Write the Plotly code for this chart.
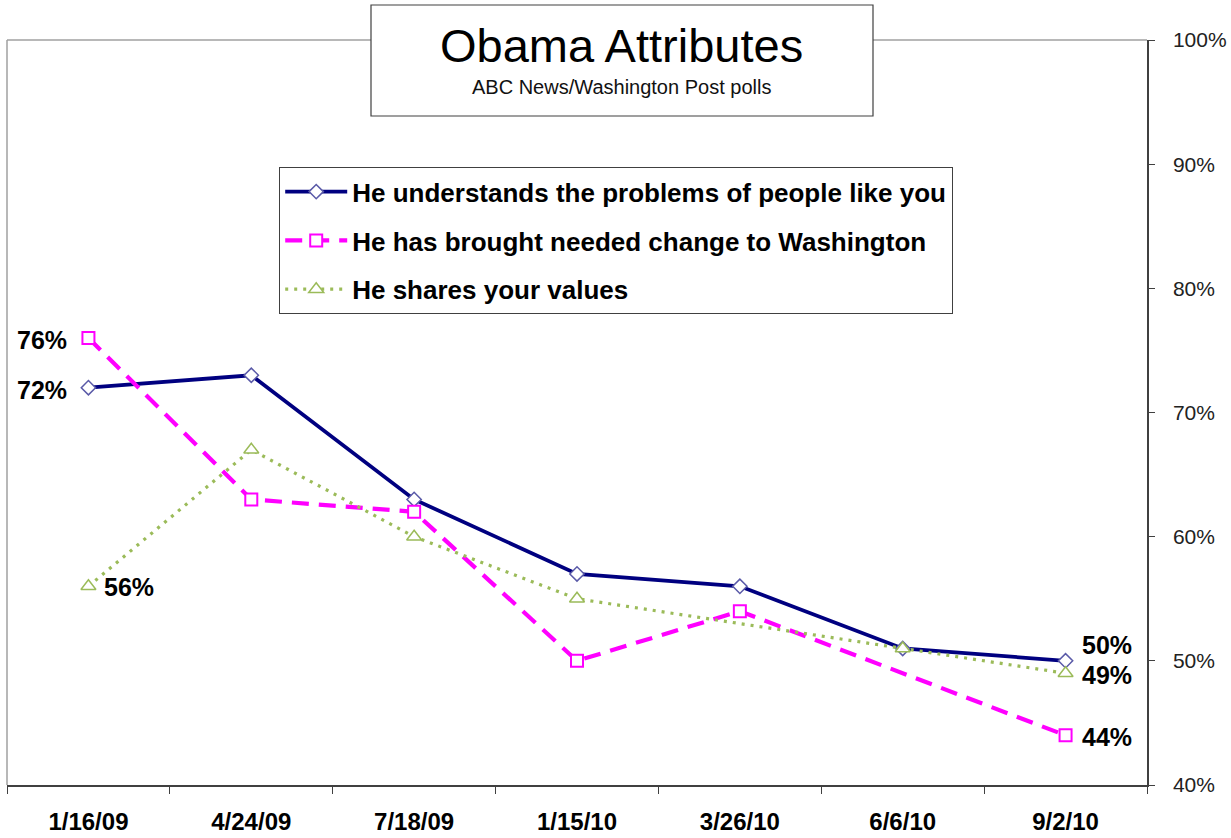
import plotly.graph_objects as go

# ---- data ----
dates = ["1/16/09", "4/24/09", "7/18/09", "1/15/10", "3/26/10", "6/6/10", "9/2/10"]
understands = [72, 73, 63, 57, 56, 51, 50]
brought_change = [76, 63, 62, 50, 54, None, 44]
shares_values = [56, 67, 60, 55, None, 51, 49]
y_ticks = [40, 50, 60, 70, 80, 90, 100]
y_tick_labels = ["40%", "50%", "60%", "70%", "80%", "90%", "100%"]
names = ["He understands the problems of people like you",
         "He has brought needed change to Washington",
         "He shares your values"]

W, H = 1231, 838
ML, MR, MT, MB = 7, 84, 40, 53
PW, PH = W - ML - MR, H - MT - MB
FONT = "Liberation Sans, Arial, sans-serif"


def px_x(p):
    return (p - ML) / PW


def px_y(p):
    return (H - MB - p) / PH


fig = go.Figure()

fig.add_trace(go.Scatter(
    x=dates, y=understands, name=names[0], mode="lines+markers",
    line=dict(color="#000080", width=3.8),
    marker=dict(symbol="diamond", size=11, color="white",
                line=dict(color="#5a5aa8", width=1.5)),
    legendgroup="a", connectgaps=True))
fig.add_trace(go.Scatter(
    x=dates, y=brought_change, name=names[1], mode="lines+markers",
    line=dict(color="#FF00FF", width=4.2, dash="17px,10px"),
    marker=dict(symbol="square", size=12, color="white",
                line=dict(color="#FF00FF", width=2)),
    legendgroup="b", connectgaps=True))
fig.add_trace(go.Scatter(
    x=dates, y=shares_values, name=names[2], mode="lines+markers",
    line=dict(color="#9BBB59", width=3.2, dash="3px,6px"),
    marker=dict(symbol="triangle-up", size=13, color="white",
                line=dict(color="#9BBB59", width=1.5)),
    legendgroup="c", connectgaps=True))

# data labels
lab = dict(showarrow=False, font=dict(family=FONT, size=25, color="black", weight="bold"))
fig.add_annotation(x=dates[0], y=brought_change[0], text=f"{brought_change[0]}%",
                   xanchor="right", xshift=-19, yshift=-2, **lab)
fig.add_annotation(x=dates[0], y=understands[0], text=f"{understands[0]}%",
                   xanchor="right", xshift=-19, yshift=-2, **lab)
fig.add_annotation(x=dates[0], y=shares_values[0], text=f"{shares_values[0]}%",
                   xanchor="left", xshift=14, yshift=-1, **lab)
fig.add_annotation(x=dates[-1], y=understands[-1], text=f"{understands[-1]}%",
                   xanchor="left", xshift=14, yshift=16, **lab)
fig.add_annotation(x=dates[-1], y=shares_values[-1], text=f"{shares_values[-1]}%",
                   xanchor="left", xshift=14, yshift=-2, **lab)
fig.add_annotation(x=dates[-1], y=brought_change[-1], text=f"{brought_change[-1]}%",
                   xanchor="left", xshift=14, yshift=-2, **lab)

# plot-area left/top border (gray)
fig.add_shape(type="line", xref="paper", yref="paper", x0=0, x1=0, y0=0, y1=1,
              line=dict(color="#a0a0a0", width=1.5), layer="below")
fig.add_shape(type="line", xref="paper", yref="paper", x0=0, x1=1, y0=1, y1=1,
              line=dict(color="#a0a0a0", width=1.5), layer="below")

# title box
fig.add_shape(type="rect", xref="paper", yref="paper",
              x0=px_x(371), x1=px_x(873), y0=px_y(116), y1=px_y(5),
              line=dict(color="#404040", width=1.2), fillcolor="white", layer="above")
fig.add_annotation(xref="paper", yref="paper", x=px_x(621), y=px_y(46),
                   text="Obama Attributes", showarrow=False,
                   font=dict(family=FONT, size=47, color="black"),
                   xanchor="center", yanchor="middle")
fig.add_annotation(xref="paper", yref="paper", x=px_x(621), y=px_y(87),
                   text="ABC News/Washington Post polls", showarrow=False,
                   font=dict(family=FONT, size=20, color="#111111"),
                   xanchor="center", yanchor="middle")

fig.update_layout(
    width=W, height=H,
    margin=dict(l=ML, r=MR, t=MT, b=MB, pad=0, autoexpand=False),
    paper_bgcolor="white", plot_bgcolor="white",
    font=dict(family=FONT),
    showlegend=True,
    legend=dict(
        x=px_x(279), y=px_y(167), xanchor="left", yanchor="top",
        bgcolor="white", bordercolor="#404040", borderwidth=1.2,
        font=dict(family=FONT, size=26, color="black", weight="bold"),
        tracegroupgap=12, itemwidth=62,
    ),
    xaxis=dict(
        type="category", range=[-0.5, len(dates) - 0.5],
        showgrid=False, zeroline=False, automargin=False,
        showline=True, linecolor="#404040", linewidth=1.5,
        ticks="outside", tickson="boundaries", ticklen=7, tickcolor="#404040",
        tickfont=dict(family=FONT, size=24, color="black", weight="bold"),
        ticklabelstandoff=14,
    ),
    yaxis=dict(
        side="right", range=[40, 100], automargin=False,
        tickvals=y_ticks, ticktext=y_tick_labels,
        showgrid=False, zeroline=False,
        showline=True, linecolor="#404040", linewidth=1.5,
        ticks="outside", ticklen=6, tickcolor="#404040",
        tickfont=dict(family=FONT, size=21, color="#222222"),
        ticklabelstandoff=14,
    ),
)

fig.write_html("out.html", config={"displayModeBar": False},
               post_script="document.body.style.margin='0';")
